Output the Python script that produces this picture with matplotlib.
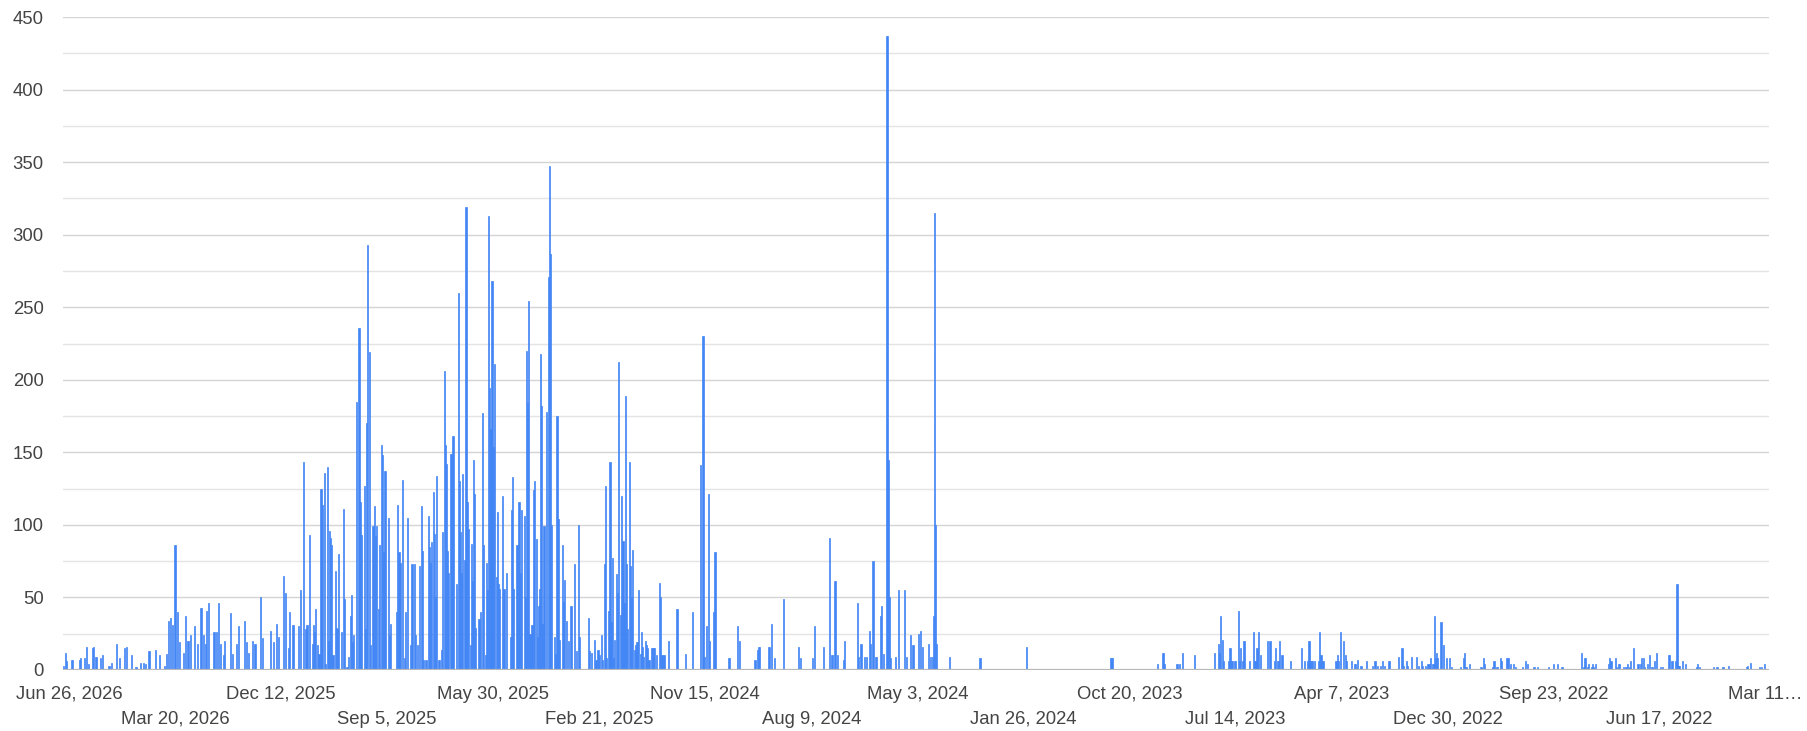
import matplotlib
matplotlib.use("Agg")
import matplotlib.pyplot as plt
from matplotlib.ticker import MultipleLocator, FixedLocator

# Daily counts, x = days before Jun 26, 2026 (negative = a few days after)
days_before = [
    -5, -3, -2, 2, 3, 10, 11, 14, 16, 18, 22, 23, 25, 29, 31, 37, 39, 44, 47, 51,
    53, 58, 62, 66, 69, 71, 74, 80, 84, 88, 90, 92, 94, 96, 98, 100, 102, 106, 108, 110,
    112, 116, 119, 122, 124, 126, 127, 129, 134, 136, 138, 140, 143, 144, 149, 151, 155, 157, 162, 164,
    166, 170, 172, 177, 179, 186, 189, 192, 194, 198, 200, 203, 204, 207, 212,
    214, 217, 219, 220, 222, 225, 226, 227, 228, 230, 231, 233, 234, 236, 237, 239, 240, 241, 242, 243,
    244, 246, 247, 248, 249, 252, 254, 255, 257, 258, 260, 261, 262, 263, 266, 268, 269, 270, 273, 274,
    275, 276, 278, 279, 281, 282, 283, 284, 286, 287, 289, 290, 291, 292, 295, 296, 297, 303, 304, 305,
    306, 308, 310, 311, 313, 316, 317, 319, 320, 322, 324, 326, 327, 328, 330, 332, 333, 334, 335, 337,
    338, 339, 340, 342, 344, 345, 347, 348, 349, 350, 351, 353, 354, 355, 358, 360, 361, 362, 363, 364,
    366, 367, 368, 369, 371, 372, 373, 374, 375, 376, 379, 380, 382, 383, 385, 386, 387, 388, 389, 390,
    391, 392, 393, 395, 396, 397, 398, 401, 402, 404, 408, 409, 410, 411, 414, 415, 416, 417, 418, 421,
    422, 423, 424, 425, 426, 428, 429, 430, 432, 433, 434, 435, 436, 437, 438, 439, 441, 443, 444, 445,
    446, 449, 450, 451, 452, 453, 456, 457, 458, 460, 462, 464, 467, 469, 471, 472, 480, 481, 483, 486,
    487, 489, 490,
    492, 493, 495, 496, 497, 499, 500, 501, 502, 503, 504, 506, 507, 508, 510, 511, 512, 513, 514, 515,
    516, 518, 519, 520, 521, 523, 524, 525, 526, 528, 529, 530, 531, 533, 534, 535, 536, 538, 539, 540,
    541, 543, 546, 547, 548, 550, 554, 562, 570, 576, 584, 586, 587, 589, 591, 592, 596, 597, 610, 618,
    620, 634, 636, 637, 638, 647, 649, 652, 660, 674, 676, 687, 689, 697, 703, 705, 706, 708, 710, 716,
    717, 729, 730,
    732, 735, 737, 740, 741, 743, 745, 746, 750, 751, 753, 756, 757, 758, 759, 764, 767, 772, 774, 778,
    780, 785, 787, 789, 794, 796, 798, 799, 800, 801, 802, 814, 842, 885,
    963, 964, 1006, 1011, 1012, 1024, 1026, 1029, 1040, 1059, 1062, 1063, 1064, 1066, 1067, 1072, 1073, 1074, 1075, 1077,
    1078, 1081, 1082, 1083, 1085, 1086, 1091, 1095, 1096, 1097, 1098, 1099, 1101, 1108, 1110, 1114, 1115, 1117, 1118, 1119,
    1121,
    1129, 1139, 1142, 1145, 1146, 1147, 1148, 1149, 1151, 1155, 1156, 1157, 1159, 1171, 1172, 1173, 1175, 1178, 1180, 1181,
    1185, 1188, 1189, 1191, 1194, 1199, 1205, 1207, 1209, 1212, 1214, 1216, 1220, 1229, 1232, 1233, 1236, 1237, 1241, 1245,
    1247, 1250, 1251, 1254, 1256, 1257, 1258, 1260, 1261, 1262, 1263, 1264, 1265, 1268, 1270, 1273, 1276, 1278, 1286, 1289,
    1290, 1291, 1294, 1305, 1307, 1308, 1316, 1317, 1319, 1320, 1323, 1324, 1329, 1330, 1332, 1335, 1337, 1343, 1346, 1348,
    1354, 1357, 1367, 1372, 1376, 1379, 1380, 1398, 1400, 1401, 1403, 1404, 1407, 1408, 1409, 1411, 1423, 1424, 1425, 1429,
    1430, 1432, 1433, 1437, 1439, 1440, 1442, 1443, 1446, 1450, 1452, 1453, 1455, 1456, 1459, 1461, 1463, 1465, 1467, 1471,
    1473, 1478, 1479, 1481, 1482, 1485, 1486, 1487, 1488, 1491, 1494, 1504, 1505, 1507, 1520, 1522, 1523, 1528, 1529, 1531,
    1533, 1534, 1547, 1550, 1551, 1554, 1559, 1560, 1562, 1564, 1567, 1568,
]
counts = [
    3, 12, 6, 7, 7, 7, 8, 8, 16, 4, 15, 16, 9, 8, 10, 3, 5, 18, 8, 15,
    16, 10, 2, 5, 5, 4, 13, 14, 10, 3, 11, 34, 36, 31, 86, 40, 19, 12, 37, 20,
    24, 30, 18, 43, 24, 18, 41, 46, 26, 26, 46, 18, 10, 20, 39, 11, 18, 30, 34, 19,
    12, 20, 18, 50, 22, 27, 19, 32, 23, 65, 53, 15, 40, 31, 30,
    55, 143, 28, 31, 93, 18, 31, 26, 42, 17, 11, 125, 114, 136, 4, 140, 20, 96, 91, 86,
    10, 68, 29, 28, 80, 26, 111, 49, 2, 9, 37, 52, 19, 24, 185, 236, 116, 93, 127, 28,
    170, 293, 219, 17, 99, 113, 92, 99, 42, 86, 155, 148, 81, 137, 105, 24, 32, 40, 114, 81,
    74, 131, 8, 40, 105, 17, 73, 73, 24, 17, 72, 113, 82, 7, 7, 106, 85, 74, 88, 123,
    94, 50, 134, 7, 14, 95, 206, 155, 142, 82, 67, 149, 56, 161, 59, 260, 130, 95, 67, 135,
    76, 319, 116, 97, 17, 87, 61, 145, 121, 29, 35, 40, 177, 86, 10, 74, 55, 313, 194, 166,
    268, 154, 211, 64, 109, 59, 56, 120, 56, 67, 23, 110, 133, 56, 86, 32, 116, 67, 110, 106,
    50, 220, 184, 254, 25, 31, 124, 130, 90, 23, 44, 56, 218, 182, 32, 99, 178, 271, 347, 287,
    100, 23, 11, 175, 104, 21, 86, 47, 62, 34, 20, 44, 73, 13, 100, 23, 36, 13, 12, 21,
    7, 14, 10,
    24, 7, 73, 127, 8, 41, 143, 33, 77, 8, 21, 66, 53, 212, 38, 120, 89, 46, 189, 73,
    28, 143, 72, 50, 83, 14, 17, 19, 55, 11, 26, 16, 9, 20, 17, 15, 7, 15, 15, 15,
    15, 10, 60, 50, 10, 10, 20, 42, 11, 40, 141, 230, 9, 30, 121, 20, 40, 81, 8, 30,
    20, 7, 14, 16, 16, 16, 32, 8, 49, 16, 8, 8, 30, 16, 91, 10, 10, 61, 10, 7,
    20, 46, 9,
    18, 9, 9, 27, 18, 75, 9, 9, 37, 44, 11, 437, 145, 50, 8, 9, 55, 55, 9, 24,
    17, 25, 27, 16, 18, 9, 9, 37, 315, 100, 18, 9, 8, 16,
    8, 8, 4, 12, 4, 4, 4, 12, 10, 12, 18, 12, 37, 21, 6, 6, 15, 6, 6, 6,
    6, 41, 6, 15, 6, 20, 6, 26, 6, 6, 15, 26, 10, 20, 20, 6, 15, 6, 6, 20,
    10,
    6, 15, 6, 6, 20, 6, 6, 6, 6, 6, 26, 10, 6, 6, 10, 6, 26, 20, 10, 6,
    6, 4, 4, 7, 3, 6, 3, 6, 3, 3, 6, 3, 6, 9, 15, 3, 6, 3, 9, 9,
    3, 6, 3, 3, 4, 4, 8, 4, 4, 37, 8, 12, 8, 33, 17, 8, 8, 2, 2, 8,
    12, 2, 4, 2, 8, 4, 2, 6, 2, 2, 8, 6, 8, 8, 4, 4, 2, 2, 6, 4,
    2, 2, 2, 4, 4, 2, 2, 12, 2, 8, 2, 4, 2, 4, 2, 4, 4, 8, 6, 8,
    2, 4, 4, 2, 2, 4, 2, 6, 15, 4, 4, 8, 8, 2, 4, 10, 2, 6, 12, 2,
    2, 10, 10, 6, 6, 6, 59, 3, 3, 6, 4, 2, 4, 2, 2, 1, 2, 2, 2, 1,
    1, 3, 1, 2, 3, 5, 1, 1, 2, 2, 4, 1,
]

# one date label every 98 days, alternating between two rows
tick_labels = ["Jun 26, 2026", "Mar 20, 2026", "Dec 12, 2025", "Sep 5, 2025",
               "May 30, 2025", "Feb 21, 2025", "Nov 15, 2024", "Aug 9, 2024",
               "May 3, 2024", "Jan 26, 2024", "Oct 20, 2023", "Jul 14, 2023",
               "Apr 7, 2023", "Dec 30, 2022", "Sep 23, 2022", "Jun 17, 2022",
               "Mar 11\u2026"]
tick_step = 98

plt.rcParams['font.family'] = ['Liberation Sans', 'DejaVu Sans']

W, H = 1807, 731
fig = plt.figure(figsize=(W / 100, H / 100), dpi=100)
ax = fig.add_axes([63 / W, (H - 670) / H, (1769 - 63) / W, (670 - 17) / H])

ax.bar(days_before, counts, width=1.1, color='#4285F4', edgecolor='#4285F4',
       linewidth=0.5, zorder=3)

# gridlines
ax.yaxis.set_major_locator(MultipleLocator(50))
ax.yaxis.set_minor_locator(MultipleLocator(25))
ax.grid(axis='y', which='major', color='#d4d4d4', linewidth=1.0, zorder=0)
ax.grid(axis='y', which='minor', color='#e4e4e4', linewidth=1.0, zorder=0)
ax.axhline(0, color='#b8b8b8', linewidth=1.6, zorder=4)

for side in ['top', 'right', 'left', 'bottom']:
    ax.spines[side].set_visible(False)

ax.tick_params(axis='y', which='both', length=0, pad=14, labelsize=13.3,
               labelcolor='#444444')
ax.tick_params(axis='y', which='minor', labelleft=False)

# two rows of date labels
upper = [(i * tick_step, lab) for i, lab in enumerate(tick_labels) if i % 2 == 0]
lower = [(i * tick_step, lab) for i, lab in enumerate(tick_labels) if i % 2 == 1]
ax.xaxis.set_major_locator(FixedLocator([p for p, _ in upper]))
ax.xaxis.set_minor_locator(FixedLocator([p for p, _ in lower]))
ax.set_xticklabels([l for _, l in upper])
ax.set_xticklabels([l for _, l in lower], minor=True)
ax.tick_params(axis='x', which='major', length=0, pad=11.5, labelsize=13.3,
               labelcolor='#444444')
ax.tick_params(axis='x', which='minor', length=0, pad=29.5, labelsize=13.3,
               labelcolor='#444444')

# newest date sits at the left edge, time runs back to the right
ax.set_ylim(0, 450)
ax.set_xlim(-5.5, 1571.1)

fig.savefig('out.png', dpi=100, facecolor='white')
